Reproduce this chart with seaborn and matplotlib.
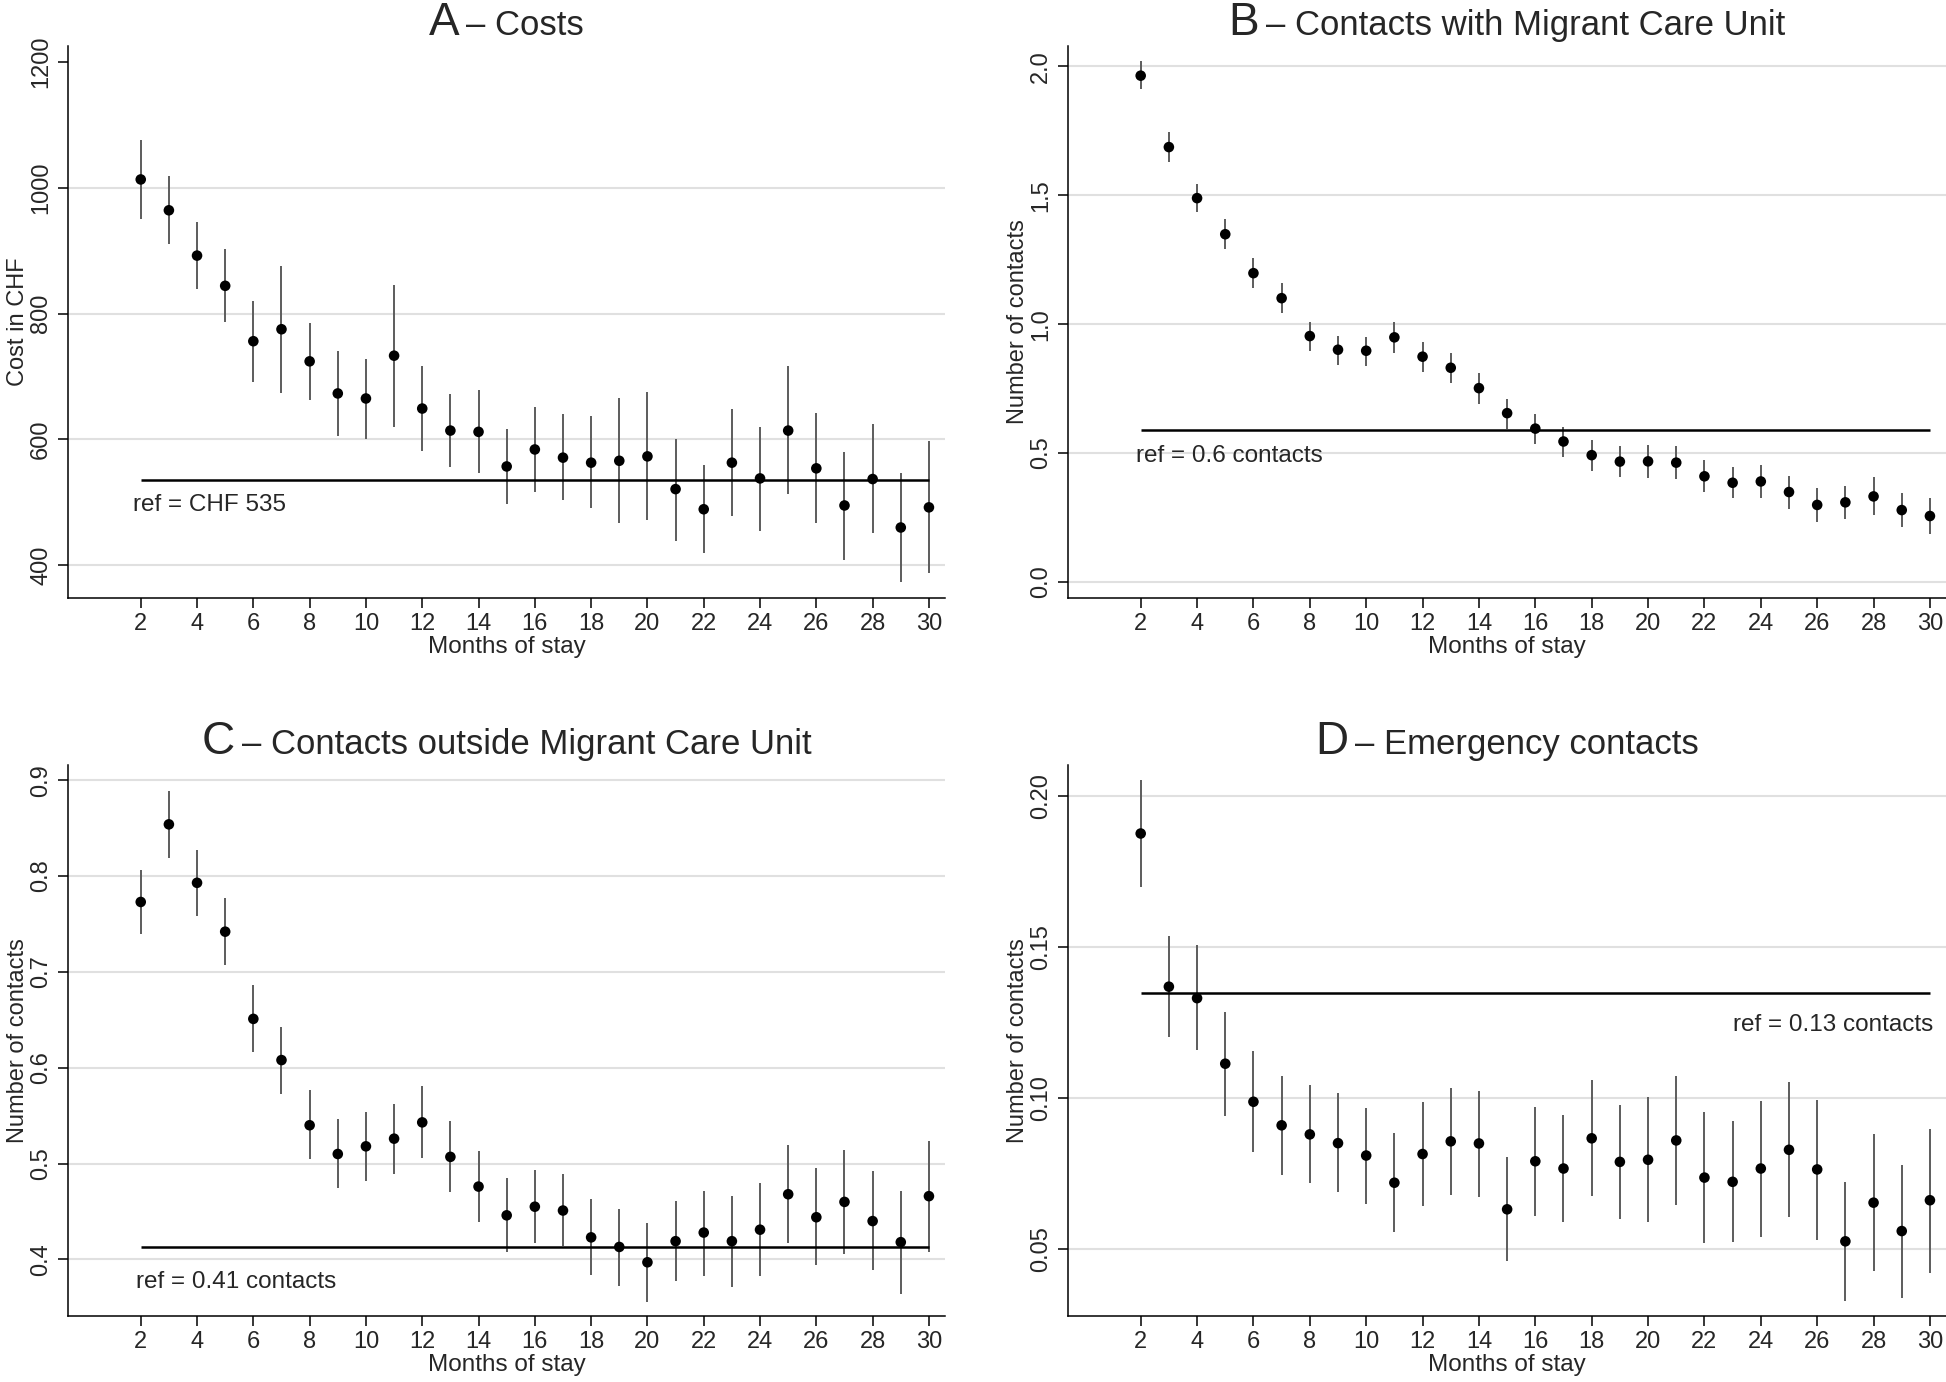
import pandas as pd
import seaborn as sns
import matplotlib.pyplot as plt
from matplotlib.offsetbox import TextArea, HPacker, AnchoredOffsetbox

# months on the x axis (same for all four panels)
months = [2, 3, 4, 5, 6, 7, 8, 9, 10, 11, 12, 13, 14, 15, 16,
          17, 18, 19, 20, 21, 22, 23, 24, 25, 26, 27, 28, 29, 30]

# A - Costs
cost_est = [1013, 964, 892, 844, 756, 775, 724, 673, 665, 733, 649, 614, 612, 557, 584,
            571, 563, 566, 573, 521, 489, 563, 538, 614, 554, 495, 537, 460, 492]
cost_lo = [950, 910, 839, 786, 691, 674, 662, 605, 600, 620, 581, 556, 546, 497, 516,
           503, 491, 467, 472, 439, 419, 478, 455, 513, 467, 409, 451, 373, 387]
cost_hi = [1076, 1018, 946, 902, 820, 875, 785, 741, 727, 846, 716, 672, 679, 617, 651,
           640, 637, 666, 675, 601, 560, 649, 620, 716, 642, 580, 624, 546, 598]
cost_ref = 536

# B - Contacts with Migrant Care Unit
mcu_est = [1.964, 1.687, 1.489, 1.349, 1.198, 1.101, 0.954, 0.901, 0.897, 0.949, 0.874, 0.831, 0.752, 0.655, 0.595,
           0.545, 0.492, 0.467, 0.468, 0.463, 0.410, 0.385, 0.390, 0.349, 0.299, 0.309, 0.332, 0.279, 0.256]
mcu_lo = [1.911, 1.629, 1.434, 1.291, 1.142, 1.044, 0.897, 0.843, 0.839, 0.889, 0.814, 0.773, 0.692, 0.595, 0.537,
          0.485, 0.432, 0.407, 0.405, 0.398, 0.349, 0.325, 0.326, 0.284, 0.234, 0.244, 0.258, 0.212, 0.188]
mcu_hi = [2.020, 1.745, 1.544, 1.407, 1.256, 1.161, 1.007, 0.956, 0.952, 1.007, 0.932, 0.889, 0.809, 0.711, 0.650,
          0.602, 0.552, 0.528, 0.532, 0.528, 0.472, 0.446, 0.453, 0.412, 0.364, 0.374, 0.409, 0.344, 0.325]
mcu_ref = 0.591

# C - Contacts outside Migrant Care Unit
out_est = [0.773, 0.854, 0.793, 0.742, 0.651, 0.608, 0.540, 0.510, 0.518, 0.526, 0.543, 0.507, 0.476, 0.446, 0.455,
           0.451, 0.423, 0.413, 0.397, 0.419, 0.428, 0.419, 0.431, 0.468, 0.444, 0.460, 0.440, 0.418, 0.466]
out_lo = [0.740, 0.819, 0.758, 0.707, 0.616, 0.573, 0.505, 0.475, 0.482, 0.489, 0.506, 0.470, 0.439, 0.408, 0.417,
          0.414, 0.384, 0.372, 0.356, 0.377, 0.383, 0.371, 0.383, 0.417, 0.394, 0.406, 0.389, 0.364, 0.408]
out_hi = [0.806, 0.889, 0.827, 0.777, 0.686, 0.643, 0.577, 0.546, 0.554, 0.562, 0.581, 0.544, 0.513, 0.485, 0.493,
          0.489, 0.463, 0.453, 0.438, 0.461, 0.471, 0.466, 0.480, 0.519, 0.495, 0.514, 0.492, 0.471, 0.524]
out_ref = 0.413

# D - Emergency contacts
em_est = [0.1875, 0.1368, 0.1330, 0.1113, 0.0987, 0.0909, 0.0879, 0.0850, 0.0809, 0.0719, 0.0814, 0.0856, 0.0849, 0.0631, 0.0790,
          0.0766, 0.0866, 0.0788, 0.0795, 0.0859, 0.0736, 0.0722, 0.0766, 0.0828, 0.0763, 0.0525, 0.0653, 0.0559, 0.0661]
em_lo = [0.1697, 0.1202, 0.1158, 0.0941, 0.0821, 0.0745, 0.0719, 0.0687, 0.0650, 0.0556, 0.0642, 0.0678, 0.0672, 0.0461, 0.0608,
         0.0588, 0.0674, 0.0598, 0.0588, 0.0646, 0.0518, 0.0522, 0.0538, 0.0607, 0.0529, 0.0328, 0.0426, 0.0338, 0.0421]
em_hi = [0.2051, 0.1536, 0.1505, 0.1284, 0.1154, 0.1072, 0.1041, 0.1015, 0.0968, 0.0882, 0.0986, 0.1031, 0.1022, 0.0805, 0.0971,
         0.0944, 0.1059, 0.0977, 0.1002, 0.1071, 0.0952, 0.0922, 0.0990, 0.1053, 0.0992, 0.0722, 0.0881, 0.0777, 0.0897]
em_ref = 0.1346

x_ticks = [2, 4, 6, 8, 10, 12, 14, 16, 18, 20, 22, 24, 26, 28, 30]

sns.set_theme(style='white')
plt.rcParams['font.family'] = ['Liberation Sans', 'DejaVu Sans']

GRID = '#e0e0e0'
BAR = '#5c5c5c'
FS = 17          # tick labels, y label
FS_X = 17.5      # x label
FS_REF = 17.5    # "ref = ..." notes

panels = [
    dict(letter='A', title='– Costs', est=cost_est, lo=cost_lo, hi=cost_hi, ref=cost_ref,
         ref_text='ref = CHF 535', ylabel='Cost in CHF',
         yticks=[400, 600, 800, 1000, 1200], ylabels=['400', '600', '800', '1000', '1200'],
         grid=[400, 600, 800, 1000], ylim=(348, 1225),
         pos=[0.0350, 0.5673, 0.4506, 0.3994], txt=(1.72, 513, 'left')),
    dict(letter='B', title='– Contacts with Migrant Care Unit', est=mcu_est, lo=mcu_lo, hi=mcu_hi, ref=mcu_ref,
         ref_text='ref = 0.6 contacts', ylabel='Number of contacts',
         yticks=[0, 0.5, 1.0, 1.5, 2.0], ylabels=['0.0', '0.5', '1.0', '1.5', '2.0'],
         grid=[0, 0.5, 1.0, 1.5, 2.0], ylim=(-0.062, 2.079),
         pos=[0.5488, 0.5673, 0.4512, 0.3994], txt=(1.82, 0.530, 'left')),
    dict(letter='C', title='– Contacts outside Migrant Care Unit', est=out_est, lo=out_lo, hi=out_hi, ref=out_ref,
         ref_text='ref = 0.41 contacts', ylabel='Number of contacts',
         yticks=[0.4, 0.5, 0.6, 0.7, 0.8, 0.9], ylabels=['0.4', '0.5', '0.6', '0.7', '0.8', '0.9'],
         grid=[0.4, 0.5, 0.6, 0.7, 0.8, 0.9], ylim=(0.341, 0.916),
         pos=[0.0350, 0.0478, 0.4506, 0.3987], txt=(1.82, 0.388, 'left')),
    dict(letter='D', title='– Emergency contacts', est=em_est, lo=em_lo, hi=em_hi, ref=em_ref,
         ref_text='ref = 0.13 contacts', ylabel='Number of contacts',
         yticks=[0.05, 0.10, 0.15, 0.20], ylabels=['0.05', '0.10', '0.15', '0.20'],
         grid=[0.05, 0.10, 0.15, 0.20], ylim=(0.0278, 0.2102),
         pos=[0.5488, 0.0478, 0.4512, 0.3987], txt=(30.1, 0.1276, 'right')),
]


def draw_panel(fig, p):
    ax = fig.add_axes(p['pos'])
    df = pd.DataFrame({'month': months, 'est': p['est'], 'lo': p['lo'], 'hi': p['hi']})

    for g in p['grid']:
        ax.axhline(g, color=GRID, lw=1.5, zorder=0)

    # confidence intervals, point estimates, reference level
    ax.vlines(df['month'], df['lo'], df['hi'], color=BAR, lw=1.4, zorder=2)
    sns.scatterplot(data=df, x='month', y='est', ax=ax, color='black', s=58,
                    edgecolor='none', zorder=3, legend=False)
    ax.hlines(p['ref'], months[0], months[-1], color='black', lw=1.8, zorder=4)
    tx, ty, ha = p['txt']
    ax.text(tx, ty, p['ref_text'], ha=ha, va='top', fontsize=FS_REF)

    ax.set_xlim(-0.58, 30.57)
    ax.set_ylim(*p['ylim'])
    ax.set_xticks(x_ticks)
    ax.set_yticks(p['yticks'])
    ax.set_yticklabels(p['ylabels'], rotation=90, va='center')
    ax.set_xlabel('Months of stay', fontsize=FS_X, labelpad=1)
    ax.set_ylabel(p['ylabel'], fontsize=FS, labelpad=1)
    ax.tick_params(axis='x', direction='out', length=7, width=1.1, pad=3.5,
                   labelsize=FS, color='black', bottom=True)
    ax.tick_params(axis='y', direction='out', length=7, width=1.1, pad=4.5,
                   labelsize=FS, color='black', left=True)
    for side in ['top', 'right']:
        ax.spines[side].set_visible(False)
    for side in ['left', 'bottom']:
        ax.spines[side].set_color('black')
        ax.spines[side].set_linewidth(1.1)
    ax.grid(False)

    # panel title: big letter followed by the smaller description
    head = HPacker(children=[TextArea(p['letter'], textprops=dict(fontsize=33)),
                             TextArea(p['title'], textprops=dict(fontsize=25))],
                   align='baseline', pad=0, sep=5)
    box = AnchoredOffsetbox(loc='lower center', child=head, pad=0, borderpad=0, frameon=False,
                            bbox_to_anchor=(0.5, 1.002), bbox_transform=ax.transAxes)
    ax.add_artist(box)
    return ax


fig = plt.figure(figsize=(19.46, 13.82), dpi=100)
for p in panels:
    draw_panel(fig, p)

fig.savefig('out.png', dpi=100, facecolor='white')
